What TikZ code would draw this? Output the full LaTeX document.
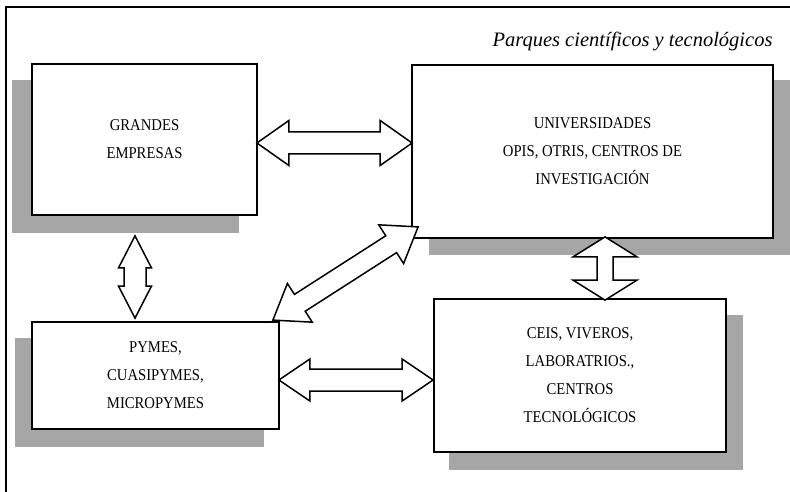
\documentclass[tikz,border=0pt]{standalone}
\usepackage{fontspec}
\setmainfont{Liberation Serif}
\newfontfamily\boxfont[FakeStretch=0.89]{Liberation Serif}
\usetikzlibrary{calc,backgrounds}

\definecolor{shadowgray}{HTML}{A6A6A6}

% double-headed block arrow between two tips:
% #1,#2 tips, #3 head length, #4 head half-width, #5 shaft half-width
\newcommand\dblblock[5]{%
  \draw[blockarrow] (#1)
    -- ($(#1)!#3!(#2)!#4!90:(#2)$)
    -- ($(#1)!#3!(#2)!#5!90:(#2)$)
    -- ($(#2)!#3!(#1)!#5!-90:(#1)$)
    -- ($(#2)!#3!(#1)!#4!-90:(#1)$)
    -- (#2)
    -- ($(#2)!#3!(#1)!#4!90:(#1)$)
    -- ($(#2)!#3!(#1)!#5!90:(#1)$)
    -- ($(#1)!#3!(#2)!#5!-90:(#2)$)
    -- ($(#1)!#3!(#2)!#4!-90:(#2)$)
    -- cycle;}

% grey drop shadow: #1 node, #2 offset
\newcommand\boxshadow[2]{%
  \fill[shadowgray] ($(#1.south west)+#2$) rectangle ($(#1.north east)+#2$);}

\tikzset{
  entity/.style={draw=black, line width=1.8pt, fill=white, inner sep=0pt,
    align=center, font=\boxfont\fontsize{16.5}{28}\selectfont},
  blockarrow/.style={draw=black, line width=1.5pt, fill=white, line join=miter},
  frameline/.style={draw=black, line width=1.2pt},
}

\begin{document}
\begin{tikzpicture}[x=1pt, y=-1pt]
  \useasboundingbox (0,0) rectangle (790,492);
  \clip (0,0) rectangle (790,492);

  % outer frame (only top and left sides fall inside the page)
  \draw[frameline] (6,492) -- (6,7) -- (800,7);

  \node[anchor=base east, font=\fontsize{20.5}{24}\selectfont\itshape] (title)
    at (776,47) {Parques científicos y tecnológicos};

  % boxes
  \node[entity, minimum width=225pt, minimum height=151pt] (ge) at (144.5,139.5)
    {GRANDES\\EMPRESAS};
  \node[entity, minimum width=361pt, minimum height=173pt] (uni) at (592.5,151.5)
    {UNIVERSIDADES\\OPIS, OTRIS, CENTROS DE\\INVESTIGACIÓN};
  \node[entity, minimum width=247pt, minimum height=107pt] (pym) at (155.5,375.5)
    {PYMES,\\CUASIPYMES,\\MICROPYMES};
  \node[entity, minimum width=292pt, minimum height=153pt] (ceis) at (580,375.5)
    {CEIS, VIVEROS,\\LABORATRIOS.,\\CENTROS\\TECNOLÓGICOS};

  % drop shadows behind the boxes
  \begin{pgfonlayer}{background}
    \boxshadow{ge}{(-19,17)}
    \boxshadow{uni}{(18,16)}
    \boxshadow{pym}{(-16,17)}
    \boxshadow{ceis}{(16,17)}
  \end{pgfonlayer}

  % arrow tips
  \coordinate (a1) at ($(ge.east)+(-1,3.5)$);
  \coordinate (b1) at ($(uni.west)+(1,-8.5)$);
  \coordinate (a2) at ($(ge.south)+(-9.5,20)$);
  \coordinate (b2) at ($(pym.north)+(-20.5,-3)$);
  \coordinate (a3) at ($(uni.south)+(12.5,-2)$);
  \coordinate (b3) at ($(ceis.north)+(25,2)$);
  \coordinate (a4) at ($(pym.east)+(-1,4.5)$);
  \coordinate (b4) at ($(ceis.west)+(0,4.5)$);
  \coordinate (a5) at ($(pym.north east)+(-7,-1)$);
  \coordinate (b5) at ($(uni.south west)+(7,-12)$);

  % two-way links
  \dblblock{a1}{b1}{32pt}{22.5pt}{11pt}
  \dblblock{a2}{b2}{32pt}{16.5pt}{11pt}
  \dblblock{a3}{b3}{20pt}{32pt}{8pt}
  \dblblock{a4}{b4}{31pt}{21pt}{11pt}
  \dblblock{a5}{b5}{32pt}{23pt}{10pt}
\end{tikzpicture}
\end{document}
